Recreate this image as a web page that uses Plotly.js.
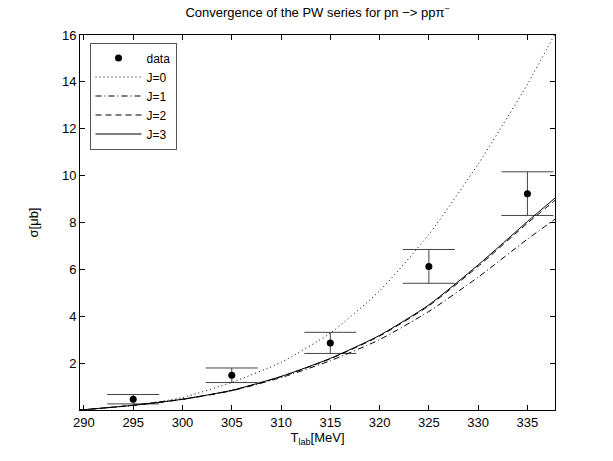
<!DOCTYPE html>
<html>
<head>
<meta charset="utf-8">
<script src="https://cdn.plot.ly/plotly-3.0.1.min.js"></script>
<style>
  html, body { margin: 0; padding: 0; background: #fff; }
  #chart { width: 613px; height: 461px; }
</style>
</head>
<body>
<div id="chart"></div>
<script>
// measured points
var tData = [295, 305, 315, 325, 335];
var sigmaData = [0.48, 1.5, 2.88, 6.14, 9.24];
var sigmaErr = [0.2, 0.31, 0.45, 0.72, 0.93];

// partial wave curves
var tCurve = [289.6, 295, 300, 305, 310, 315, 320, 325, 330, 335, 337.8];
var sigJ0 = [0.02, 0.22, 0.55, 1.2, 2.05, 3.3, 5.1, 7.5, 10.5, 13.9, 16.05];
var sigJ1 = [0.02, 0.22, 0.47, 0.84, 1.4, 2.12, 3.02, 4.22, 5.68, 7.3, 8.15];
var sigJ2 = [0.02, 0.22, 0.48, 0.85, 1.44, 2.2, 3.17, 4.46, 6.14, 7.98, 8.95];
var sigJ3 = [0.02, 0.22, 0.48, 0.86, 1.45, 2.22, 3.2, 4.5, 6.2, 8.05, 9.05];

var xTicks = [290, 295, 300, 305, 310, 315, 320, 325, 330, 335];
var yTicks = [2, 4, 6, 8, 10, 12, 14, 16];

function curve(name, y, dash) {
    return {
        type: 'scatter',
        mode: 'lines',
        name: name,
        x: tCurve,
        y: y,
        line: {color: '#000', width: 1, dash: dash, shape: 'spline', smoothing: 0.6}
    };
}

var data = [
    {
        type: 'scatter',
        mode: 'markers',
        name: 'data',
        x: tData,
        y: sigmaData,
        marker: {color: '#000', size: 7},
        error_y: {
            type: 'data',
            array: sigmaErr,
            visible: true,
            color: '#444',
            thickness: 1,
            width: 26
        }
    },
    curve('J=0', sigJ0, '1px,3px'),
    curve('J=1', sigJ1, '6px,3px,1px,3px'),
    curve('J=2', sigJ2, '6px,4px'),
    curve('J=3', sigJ3, 'solid')
];

var fontFam = 'Liberation Sans, Arial, sans-serif';

var layout = {
    width: 613,
    height: 461,
    paper_bgcolor: '#fff',
    plot_bgcolor: '#fff',
    font: {family: fontFam, size: 13, color: '#000'},
    margin: {l: 80, r: 58, t: 35, b: 51},
    title: {
        text: 'Convergence of the PW series for pn \u2212> pp\u03c0<sup>\u2212</sup>',
        font: {family: fontFam, size: 13, color: '#000'},
        x: 0.518,
        xanchor: 'center',
        y: 0.972,
        yanchor: 'middle'
    },
    showlegend: true,
    legend: {
        x: 0.02,
        y: 0.98,
        xanchor: 'left',
        yanchor: 'top',
        bgcolor: '#fff',
        bordercolor: '#555',
        borderwidth: 1,
        itemwidth: 46,
        font: {family: fontFam, size: 12, color: '#000'}
    },
    xaxis: {
        range: [289.6, 337.8],
        tickvals: xTicks,
        ticks: 'inside',
        ticklen: 5,
        tickcolor: '#000',
        showline: true,
        linecolor: '#000',
        linewidth: 1,
        mirror: 'ticks',
        showgrid: false,
        zeroline: false,
        title: {text: 'T<sub>lab</sub>[MeV]', standoff: 4, font: {size: 13}}
    },
    yaxis: {
        range: [0.02, 16],
        tickvals: yTicks,
        ticks: 'inside',
        ticklen: 5,
        tickcolor: '#000',
        showline: true,
        linecolor: '#000',
        linewidth: 1,
        mirror: 'ticks',
        showgrid: false,
        zeroline: false,
        title: {text: '\u03c3[\u03bcb]', standoff: 20, font: {size: 13}}
    }
};

Plotly.newPlot('chart', data, layout, {displayModeBar: false, staticPlot: true});
</script>
</body>
</html>
